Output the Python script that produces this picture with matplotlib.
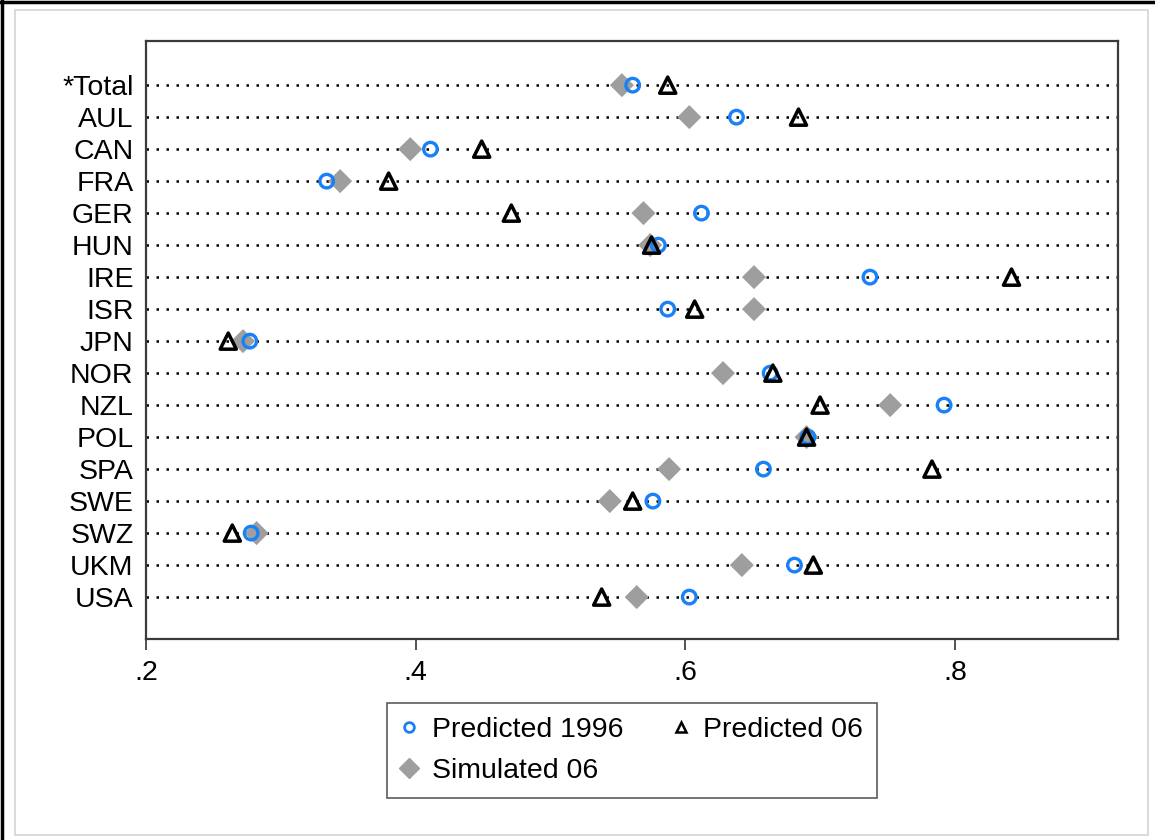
import numpy as np
import matplotlib
matplotlib.use("Agg")
import matplotlib.pyplot as plt
from matplotlib.lines import Line2D
from matplotlib.patches import Rectangle

plt.rcParams['font.family'] = ['Liberation Sans', 'DejaVu Sans']

countries = ["*Total", "AUL", "CAN", "FRA", "GER", "HUN", "IRE", "ISR", "JPN",
             "NOR", "NZL", "POL", "SPA", "SWE", "SWZ", "UKM", "USA"]
pred_1996 = [0.561, 0.638, 0.411, 0.334, 0.612, 0.580, 0.737, 0.587, 0.277,
             0.663, 0.792, 0.691, 0.658, 0.576, 0.278, 0.681, 0.603]
pred_06 = [0.587, 0.684, 0.449, 0.380, 0.471, 0.575, 0.842, 0.607, 0.261,
           0.665, 0.700, 0.690, 0.783, 0.561, 0.264, 0.695, 0.538]
sim_06 = [0.553, 0.603, 0.396, 0.344, 0.569, 0.574, 0.651, 0.651, 0.272,
          0.628, 0.752, 0.690, 0.588, 0.544, 0.282, 0.642, 0.564]
xticks = [0.2, 0.4, 0.6, 0.8]
xtick_labels = [".2", ".4", ".6", ".8"]

blue = '#1a80f5'
grey = '#9e9e9e'
fs = 20.5

fig = plt.figure(figsize=(11.55, 8.4), dpi=100)

# outer frame of the graph region
fig.patches.append(Rectangle((15 / 1155, 1 - 835 / 840), 1133 / 1155, 825 / 840,
                             transform=fig.transFigure, fill=False,
                             edgecolor='#d4d4d4', lw=1.2))
fig.add_artist(Line2D([0.0015, 0.0015], [0, 1], transform=fig.transFigure,
                      color='black', lw=2.5))
fig.add_artist(Line2D([0, 1], [0.998, 0.998], transform=fig.transFigure,
                      color='black', lw=2.5))

ax = fig.add_axes([146 / 1155, 1 - 639 / 840, 972 / 1155, 598 / 840])
y = np.arange(len(countries))

for yi in y:
    ax.axhline(yi, color='black', lw=1.8, linestyle=(0, (1, 3.0)), zorder=1)

ax.scatter(sim_06, y, marker='D', s=150, color=grey, edgecolors='none', zorder=2)
ax.scatter(pred_1996, y, marker='o', s=95, facecolors='none', edgecolors=blue,
           linewidths=2.4, zorder=3)
ax.scatter(pred_06, y, marker='^', s=135, facecolors='none', edgecolors='black',
           linewidths=2.5, zorder=4)

ax.set_xlim(0.2, 0.921)
ax.set_ylim(len(countries) - 1 + 1.31, -1.38)
ax.set_yticks(y)
ax.set_yticklabels(countries, fontsize=fs)
ax.set_xticks(xticks)
ax.set_xticklabels(xtick_labels, fontsize=fs)
ax.tick_params(axis='y', length=0, pad=9)
ax.tick_params(axis='x', length=8, width=1.2, pad=7, color='#333333')
for side in ax.spines.values():
    side.set_color('#3a3a3a')
    side.set_linewidth(1.6)

handles = [
    Line2D([], [], marker='o', ls='none', markersize=7, markerfacecolor='none',
           markeredgecolor=blue, markeredgewidth=2),
    Line2D([], [], marker='D', ls='none', markersize=10, color=grey),
    Line2D([], [], marker='^', ls='none', markersize=7, markerfacecolor='none',
           markeredgecolor='black', markeredgewidth=1.8),
]
labels = ["Predicted 1996", "Simulated 06", "Predicted 06"]
leg = fig.legend(handles, labels, ncol=2, loc='center',
                 bbox_to_anchor=(632 / 1155, 1 - 750.5 / 840),
                 fontsize=fs, frameon=True, fancybox=False, handlelength=0.6,
                 handletextpad=0.5, columnspacing=1.7, labelspacing=0.5,
                 borderpad=0.5, borderaxespad=0)
leg.get_frame().set_edgecolor('#333333')
leg.get_frame().set_linewidth(1.2)

fig.savefig("out.png", dpi=100)
